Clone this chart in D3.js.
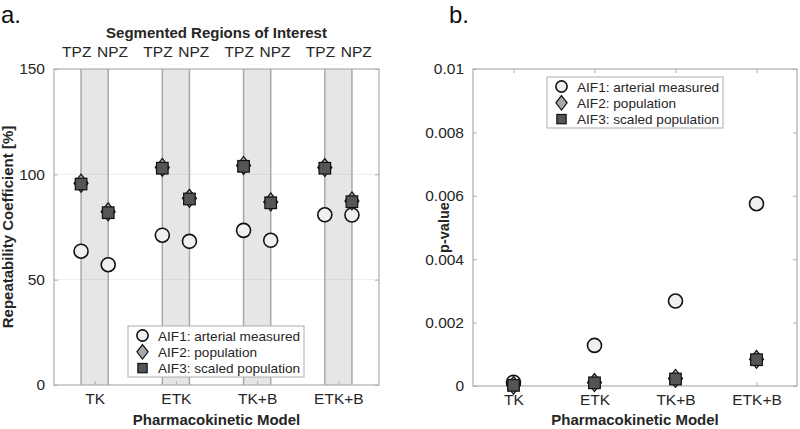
<!DOCTYPE html>
<html>
<head>
<meta charset="utf-8">
<script src="https://cdn.jsdelivr.net/npm/d3@7"></script>
<style>
  body { margin: 0; background: #fff; }
  svg { display: block; font-family: "Liberation Sans", Arial, Helvetica, sans-serif; }
</style>
</head>
<body>
<div id="chart"></div>
<script>
// categories and regions
const models = ["TK", "ETK", "TK+B", "ETK+B"];
const regions = ["TPZ", "NPZ"];
const legendNames = ["AIF1: arterial measured", "AIF2: population", "AIF3: scaled population"];

// panel a: repeatability coefficient [%], per model
const rcAIF1_TPZ = [63.5, 71.1, 73.4, 80.8];
const rcAIF1_NPZ = [57.1, 68.2, 68.7, 80.7];
const rcAIF2_TPZ = [95.8, 103.3, 104.2, 103.2];
const rcAIF2_NPZ = [82.2, 88.6, 86.9, 87.4];
const rcAIF3_TPZ = [95.4, 102.9, 103.8, 102.9];
const rcAIF3_NPZ = [81.8, 88.3, 86.5, 87.0];

// panel b: p-value, per model
const pAIF1 = [0.00012, 0.00128, 0.00268, 0.00575];
const pAIF2 = [0.00002, 0.00011, 0.00024, 0.00084];
const pAIF3 = [0.00002, 0.00010, 0.00022, 0.00083];

const yTicksA = [0, 50, 100, 150];
const yTicksB = [0, 0.002, 0.004, 0.006, 0.008, 0.01];

const width = 800
const height = 429
const boxColor = "#adadad"
const textColor = "#262626"

const svg = d3.select("#chart")
  .append("svg")
    .attr("width", width)
    .attr("height", height)

// marker styles for the three AIFs
const markerStyle = [
  { fill: "#f0f0f0" },
  { fill: "#a9a9a9" },
  { fill: "#555555" }
]

function drawMarker(g, type, cx, cy, s) {
  if (type == 0) {
    g.append("circle")
      .attr("cx", cx).attr("cy", cy).attr("r", 7 * s)
      .attr("fill", markerStyle[0].fill)
      .attr("stroke", "#111").attr("stroke-width", 1.6)
  } else if (type == 1) {
    const w = 7 * s, h = 9 * s;
    g.append("path")
      .attr("d", `M${cx},${cy - h}L${cx + w},${cy}L${cx},${cy + h}L${cx - w},${cy}Z`)
      .attr("fill", markerStyle[1].fill)
      .attr("stroke", "#111").attr("stroke-width", 1.2)
  } else {
    const a = 5.8 * s;
    g.append("rect")
      .attr("x", cx - a).attr("y", cy - a)
      .attr("width", 2 * a).attr("height", 2 * a)
      .attr("fill", markerStyle[2].fill)
      .attr("stroke", "#111").attr("stroke-width", 1.2)
  }
}

// axes box with inward ticks on all four sides
function drawFrame(x, y, yTicks, yFormat, topTicks) {
  const g = svg.append("g")
  const [x0, x1] = x.range()
  const [y0, y1] = y.range()

  g.append("g")
    .attr("transform", `translate(${x0},0)`)
    .call(d3.axisLeft(y).tickValues(yTicks).tickFormat(yFormat).tickSizeInner(-4).tickSizeOuter(0).tickPadding(9))
  g.append("g")
    .attr("transform", `translate(${x1},0)`)
    .call(d3.axisRight(y).tickValues(yTicks).tickFormat("").tickSizeInner(-4).tickSizeOuter(0))
  g.append("g")
    .attr("transform", `translate(0,${y0})`)
    .call(d3.axisBottom(x).tickValues(d3.range(1, models.length + 1)).tickFormat(i => models[i - 1]).tickSizeInner(-4).tickSizeOuter(0).tickPadding(8))
  if (topTicks) {
    g.append("g")
      .attr("transform", `translate(0,${y1})`)
      .call(d3.axisTop(x).tickValues(d3.range(1, models.length + 1)).tickFormat("").tickSizeInner(-4).tickSizeOuter(0))
  }

  g.selectAll(".domain").remove()
  g.selectAll(".tick line").attr("stroke", boxColor)
  g.selectAll(".tick text")
    .attr("fill", textColor)
    .style("font-size", "15.5px")
    .attr("font-family", null)

  svg.append("rect")
    .attr("x", x0).attr("y", y1)
    .attr("width", x1 - x0).attr("height", y0 - y1)
    .attr("fill", "none")
    .attr("stroke", boxColor)
    .attr("stroke-width", 1.2)
}

function drawLegend(x, y) {
  const g = svg.append("g")
  g.append("rect")
    .attr("x", x).attr("y", y)
    .attr("width", 176).attr("height", 51)
    .attr("fill", "#fff")
    .attr("stroke", boxColor)
  legendNames.forEach((name, i) => {
    const cy = y + 9.5 + i * 16.3
    drawMarker(g, i, x + 14.5, cy, 0.8)
    g.append("text")
      .attr("x", x + 30).attr("y", cy + 5)
      .attr("fill", textColor)
      .style("font-size", "13.6px")
      .text(name)
  })
}

// ---------- panel a ----------
const xA = d3.scaleLinear().domain([0.5, 4.5]).range([54, 379])
const yA = d3.scaleLinear().domain([0, 150]).range([385, 69])
const off = 0.167

// grey band between TPZ and NPZ lines
svg.selectAll("bands")
  .data(models)
  .join("rect")
    .attr("x", (d, i) => xA(i + 1 - off))
    .attr("y", yA(150))
    .attr("width", xA(1 + off) - xA(1 - off))
    .attr("height", yA(0) - yA(150))
    .attr("fill", "#e6e6e6")

// faint grid
svg.selectAll("gridA")
  .data([50, 100])
  .join("line")
    .attr("x1", xA(0.5)).attr("x2", xA(4.5))
    .attr("y1", d => yA(d)).attr("y2", d => yA(d))
    .attr("stroke", "#000").attr("stroke-opacity", 0.07)

// region lines
const regionPos = []
models.forEach((m, i) => {
  regionPos.push({ r: regions[0], pos: i + 1 - off, lab: i + 1 - 0.22 })
  regionPos.push({ r: regions[1], pos: i + 1 + off, lab: i + 1 + 0.22 })
})
svg.selectAll("regionLines")
  .data(regionPos)
  .join("line")
    .attr("x1", d => xA(d.pos)).attr("x2", d => xA(d.pos))
    .attr("y1", yA(0)).attr("y2", yA(150))
    .attr("stroke", "#a8a8a8").attr("stroke-width", 1.5)

drawFrame(xA, yA, yTicksA, d3.format("d"), false)

svg.selectAll("regionLabels")
  .data(regionPos)
  .join("text")
    .attr("x", d => xA(d.lab))
    .attr("y", 57)
    .attr("text-anchor", "middle")
    .attr("fill", textColor)
    .style("font-size", "15.5px")
    .text(d => d.r)

svg.append("text")
  .attr("x", 216.5).attr("y", 38)
  .attr("text-anchor", "middle")
  .attr("fill", textColor)
  .style("font-size", "15px").style("font-weight", "bold")
  .text("Segmented Regions of Interest")

// points: AIF1, AIF2, AIF3 for both regions
const seriesA = [
  [rcAIF1_TPZ, rcAIF1_NPZ],
  [rcAIF2_TPZ, rcAIF2_NPZ],
  [rcAIF3_TPZ, rcAIF3_NPZ]
]
const pointsA = svg.append("g")
seriesA.forEach((pair, type) => {
  pair.forEach((vals, r) => {
    vals.forEach((v, i) => {
      const pos = i + 1 + (r == 0 ? -off : off)
      drawMarker(pointsA, type, xA(pos), yA(v), 1)
    })
  })
})

drawLegend(128, 326)

svg.append("text")
  .attr("transform", `translate(13,${(yA(0) + yA(150)) / 2}) rotate(-90)`)
  .attr("text-anchor", "middle")
  .attr("fill", textColor)
  .style("font-size", "15px").style("font-weight", "bold")
  .text("Repeatability Coefficient [%]")

svg.append("text")
  .attr("x", 216.5).attr("y", 425)
  .attr("text-anchor", "middle")
  .attr("fill", textColor)
  .style("font-size", "15px").style("font-weight", "bold")
  .text("Pharmacokinetic Model")

svg.append("text")
  .attr("x", 1).attr("y", 22.5)
  .attr("fill", "#111")
  .style("font-size", "24px")
  .text("a.")

// ---------- panel b ----------
const xB = d3.scaleLinear().domain([0.5, 4.5]).range([473, 797])
const yB = d3.scaleLinear().domain([0, 0.01]).range([386, 69])

drawFrame(xB, yB, yTicksB, d => d == 0 ? "0" : String(+d.toFixed(3)), true)

const pointsB = svg.append("g");
[pAIF1, pAIF2, pAIF3].forEach((vals, type) => {
  vals.forEach((v, i) => drawMarker(pointsB, type, xB(i + 1), yB(v), 1))
})

drawLegend(547, 77)

svg.append("text")
  .attr("transform", `translate(449,${(yB(0) + yB(0.01)) / 2}) rotate(-90)`)
  .attr("text-anchor", "middle")
  .attr("fill", textColor)
  .style("font-size", "14.5px").style("font-weight", "bold")
  .text("p-value")

svg.append("text")
  .attr("x", 635).attr("y", 425)
  .attr("text-anchor", "middle")
  .attr("fill", textColor)
  .style("font-size", "15px").style("font-weight", "bold")
  .text("Pharmacokinetic Model")

svg.append("text")
  .attr("x", 449).attr("y", 22.5)
  .attr("fill", "#111")
  .style("font-size", "24px")
  .text("b.")
</script>
</body>
</html>
